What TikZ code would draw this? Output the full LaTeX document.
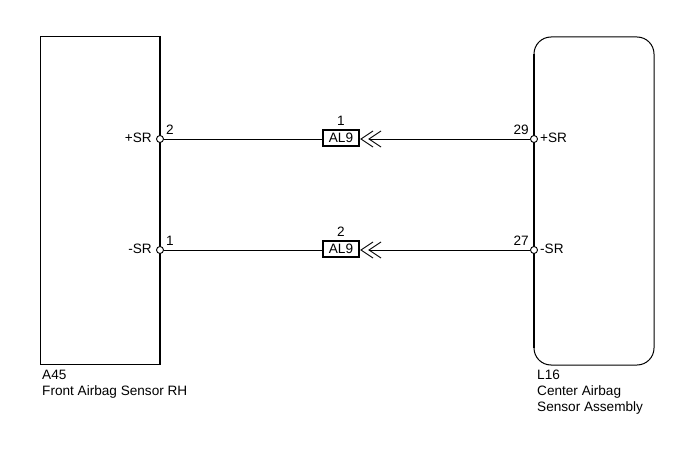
\documentclass[tikz,border=0pt]{standalone}
\usepackage{fontspec}
\setmainfont{Liberation Sans}
\usetikzlibrary{positioning}

\begin{document}
\begin{tikzpicture}[x=1pt,y=-1pt,font=\fontsize{13.6}{16}\selectfont,inner sep=0pt]

        \tikzstyle{pin}=[circle,draw,fill=white,line width=0.9pt,minimum size=7pt]
        \tikzstyle{wire}=[line width=0.9pt]
        \tikzstyle{conn}=[shape=rectangle,draw,line width=1.2pt,minimum width=36pt,minimum height=16pt]
        \tikzstyle{lbl}=[align=left,anchor=north west]

        \useasboundingbox (0,0) rectangle (690,465);

        % component boxes
        \draw[line width=1pt] (160,37) -- (40,37) -- (40,364) -- (160,364);
        \draw[line width=2pt] (160,36) -- (160,365);
        \draw[line width=1pt,rounded corners=17pt] (534,37) rectangle (654,365);
        \draw[line width=2pt] (534,54) -- (534,348);

        \node[pin] (A) at (160,139) {};
        \node[pin] (B) at (160,250) {};
        \node[pin] (C) at (534,139) {};
        \node[pin] (D) at (534,250) {};

        \node[conn] (E) at (341,138) {AL9};
        \node[conn] (F) at (341,249) {AL9};
        \node (E1) [above=4pt of E] {1};
        \node (F1) [above=4pt of F] {2};

        \coordinate (E2) at (369,139);
        \coordinate (F2) at (369,250);

        % pin texts
        \node[anchor=east] at (152,138) {+SR};
        \node[anchor=east] at (152,249) {-SR};
        \node[anchor=west] at (540,138) {+SR};
        \node[anchor=west] at (540,249) {-SR};
        \node[anchor=south west] at (166,135) {2};
        \node[anchor=south west] at (166,246) {1};
        \node[anchor=south east] at (529,135) {29};
        \node[anchor=south east] at (529,246) {27};

        % wires
        \path[wire] (A) edge (A -| E.west);
        \path[wire] (B) edge (B -| F.west);
        \path[wire] (E2) edge (C);
        \path[wire] (F2) edge (D);

        % chevrons
        \foreach \y in {139,250} {
          \draw[wire] (373,\y-8) -- (361,\y) -- (373,\y+8);
          \draw[wire] (381,\y-8) -- (369,\y) -- (381,\y+8);
        }

        \node[lbl] (G) at (42,370) {A45\\Front Airbag Sensor RH};
        \node[lbl] (H) at (537,370) {L16\\Center Airbag\\Sensor Assembly};
      \end{tikzpicture}
\end{document}
